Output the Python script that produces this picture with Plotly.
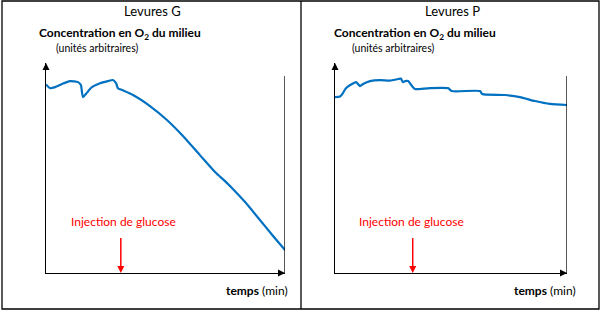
import plotly.graph_objects as go

W, H = 603, 313

# ---- data (time in % of recording, O2 concentration in arbitrary units) ----
time_G = [0, 1.7, 3.8, 6.7, 10.0, 13.4, 14.6, 15.1, 15.5, 16.7, 19.2, 22.6, 25.9, 28.0,
          29.3, 30.1, 31.8, 36.4, 43.5, 50.6, 57.3, 64.4, 70.7, 74.9, 77.8, 83.3, 89.5, 95.0, 100]
o2_G = [90.7, 88.9, 89.4, 90.9, 92.3, 91.8, 90.4, 86.5, 84.6, 86.1, 89.4, 91.3, 92.3, 92.8,
        91.3, 88.9, 88.0, 85.6, 80.3, 73.6, 65.9, 56.7, 48.6, 44.2, 40.9, 34.1, 25.5, 17.8, 11.1]

time_P = [0, 2.2, 3.4, 4.7, 7.3, 9.1, 9.9, 10.8, 12.1, 15.1, 19.4, 23.7, 27.2, 28.4, 29.3,
          30.2, 31.5, 33.2, 34.5, 36.6, 40.9, 48.7, 50.4, 62.5, 63.4, 73.3, 79.7, 86.2, 92.7, 100]
o2_P = [84.6, 84.9, 86.5, 88.9, 90.9, 91.8, 90.9, 89.9, 90.9, 92.3, 92.8, 92.5, 93.3, 93.5, 91.8,
        92.3, 92.3, 89.9, 88.5, 88.5, 88.9, 88.9, 87.5, 87.5, 86.1, 85.6, 84.6, 82.7, 81.3, 80.8]

panel_titles = ["Levures G", "Levures P"]
injection_time = [31.3, 33.5]
injection_label_time = [32.6, 32.8]
X_MAX = 100
Y_MAX = 101
RIGHT_LINE_TOP = 94.7
INJ_ARROW_TOP = 16.8

FONT = "Lato"
BLUE = "#0070c0"


def px(x):
    return x / W


def py(y):
    return 1 - y / H


fig = go.Figure()

panels = [("x", "y", time_G, o2_G), ("x2", "y2", time_P, o2_P)]
for i, (xa, ya, t, c) in enumerate(panels):
    fig.add_trace(go.Scatter(x=t, y=c, xaxis=xa, yaxis=ya, mode="lines",
                             line=dict(color=BLUE, width=2.2, shape="spline", smoothing=0.6),
                             hoverinfo="skip", showlegend=False))
    # axis arrow heads
    fig.add_trace(go.Scatter(x=[0], y=[Y_MAX], xaxis=xa, yaxis=ya, mode="markers",
                             marker=dict(symbol="arrow-up", size=7, color="black"),
                             cliponaxis=False, hoverinfo="skip", showlegend=False))
    fig.add_trace(go.Scatter(x=[X_MAX], y=[0], xaxis=xa, yaxis=ya, mode="markers",
                             marker=dict(symbol="arrow-right", size=7, color="black"),
                             cliponaxis=False, hoverinfo="skip", showlegend=False))
    # glucose injection arrow
    ti = injection_time[i]
    fig.add_trace(go.Scatter(x=[ti, ti], y=[INJ_ARROW_TOP, 2], xaxis=xa, yaxis=ya, mode="lines",
                             line=dict(color="red", width=1.5),
                             cliponaxis=False, hoverinfo="skip", showlegend=False))
    fig.add_trace(go.Scatter(x=[ti], y=[0], xaxis=xa, yaxis=ya, mode="markers",
                             marker=dict(symbol="arrow-down", size=7, color="red"),
                             cliponaxis=False, hoverinfo="skip", showlegend=False))

axis_common = dict(showgrid=False, zeroline=False, showticklabels=False, ticks="",
                   showline=True, linecolor="black", linewidth=1.3, fixedrange=True)
ydom = [py(273), py(63)]
fig.update_layout(
    width=W, height=H, margin=dict(l=0, r=0, t=0, b=0),
    paper_bgcolor="white", plot_bgcolor="white",
    xaxis=dict(domain=[px(46), px(285)], range=[0, X_MAX], anchor="y", **axis_common),
    yaxis=dict(domain=ydom, range=[0, Y_MAX], anchor="x", **axis_common),
    xaxis2=dict(domain=[px(335), px(567)], range=[0, X_MAX], anchor="y2", **axis_common),
    yaxis2=dict(domain=ydom, range=[0, Y_MAX], anchor="x2", **axis_common),
    showlegend=False,
)

shapes = [
    dict(type="rect", xref="paper", yref="paper", x0=px(2), x1=px(599), y0=py(309), y1=py(1),
         line=dict(color="black", width=1.3)),
    dict(type="line", xref="paper", yref="paper", x0=px(301), x1=px(301), y0=py(309), y1=py(1),
         line=dict(color="black", width=1.3)),
]
for xa, ya in [("x", "y"), ("x2", "y2")]:
    shapes.append(dict(type="line", xref=xa, yref=ya, x0=X_MAX, x1=X_MAX, y0=0, y1=RIGHT_LINE_TOP,
                       line=dict(color="black", width=1.3)))
fig.update_layout(shapes=shapes)

ann = []
offsets = [0, 300]
xrefs = ["x", "x2"]
for i in range(2):
    o = offsets[i]
    ann.append(dict(x=px(152 + o), y=py(11), xref="paper", yref="paper", text=panel_titles[i],
                    showarrow=False, xanchor="center", yanchor="middle",
                    font=dict(family=FONT, size=13, color="black")))
    ann.append(dict(x=px(37 + o - (5 if i else 0)), y=py(33), xref="paper", yref="paper",
                    text="<b>Concentration en O<sub>2</sub> du milieu</b>",
                    showarrow=False, xanchor="left", yanchor="middle",
                    font=dict(family=FONT, size=12, color="black")))
    ann.append(dict(x=px(54 + o - (4 if i else 0)), y=py(48), xref="paper", yref="paper",
                    text="(unités arbitraires)",
                    showarrow=False, xanchor="left", yanchor="middle",
                    font=dict(family=FONT, size=10.5, color="black")))
    ann.append(dict(x=px(290 + o - (12 if i else 0)), y=py(290), xref="paper", yref="paper",
                    text="<b>temps</b> (min)",
                    showarrow=False, xanchor="right", yanchor="middle",
                    font=dict(family=FONT, size=12, color="black")))
    ann.append(dict(x=injection_label_time[i], y=py(221), xref=xrefs[i], yref="paper",
                    text="Injection de glucose",
                    showarrow=False, xanchor="center", yanchor="middle",
                    font=dict(family=FONT, size=12, color="red")))
fig.update_layout(annotations=ann)

fig.write_html("out.html")
